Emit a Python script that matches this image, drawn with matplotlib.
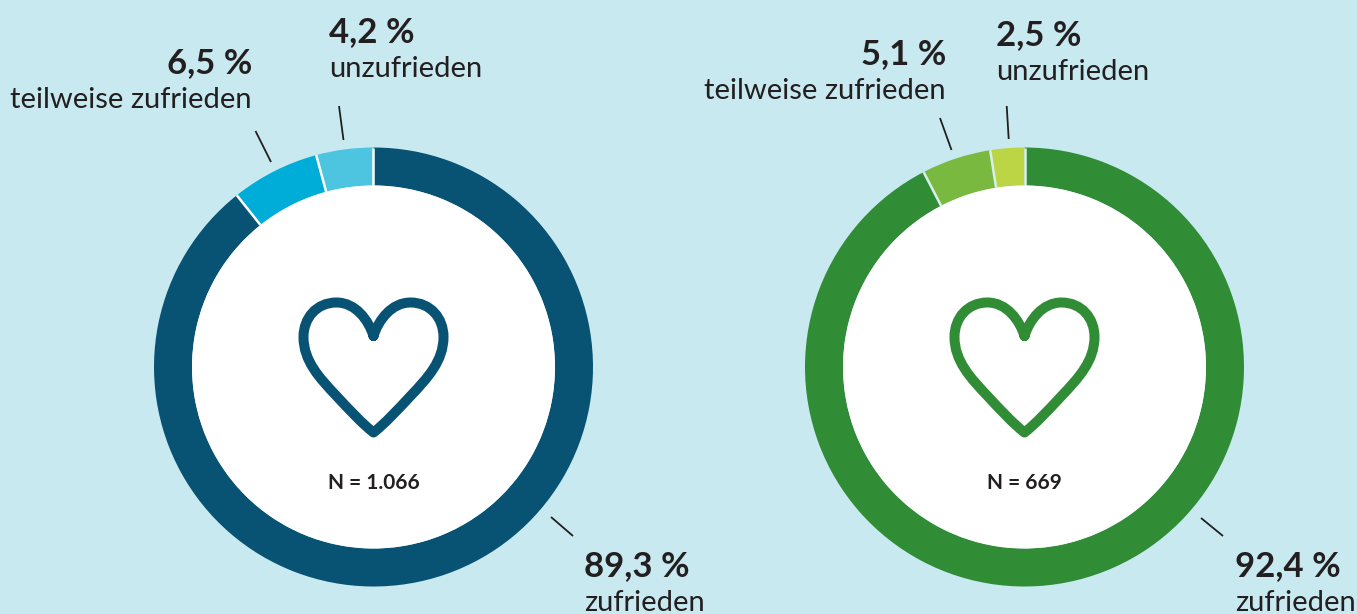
import matplotlib.pyplot as plt
import numpy as np
from matplotlib.patches import Circle, PathPatch
from matplotlib.path import Path

# Data
categories = ['zufrieden', 'teilweise zufrieden', 'unzufrieden']
values_left = [89.3, 6.5, 4.2]
values_right = [92.4, 5.1, 2.5]
pct_labels_left = ['89,3 %', '6,5 %', '4,2 %']
pct_labels_right = ['92,4 %', '5,1 %', '2,5 %']
n_left = 'N = 1.066'
n_right = 'N = 669'

colors_left = ['#085274', '#00add8', '#4dc4e0']
colors_right = ['#318c36', '#7ab93f', '#bcd544']
bg = '#c8e9f0'
ink = '#231f20'

W, H = 1357, 614
plt.rcParams['font.family'] = ['Lato', 'DejaVu Sans']

fig = plt.figure(figsize=(W / 100, H / 100), dpi=100, facecolor=bg)
ax = fig.add_axes([0, 0, 1, 1])


def py(y):
    # picture y (from the top) to axes y
    return H - y


def heart(cx, cy, color):
    # half outline from the notch to the tip, mirrored for the other side
    left = [(0, -31), (-5, -47), (-18, -64.5), (-37, -64.5),
            (-57, -64.5), (-70, -49), (-70, -30),
            (-70, -6), (-54, 11), (-37, 29),
            (-23, 44), (-12, 56), (0, 65.5)]
    right = [(-x, y) for x, y in reversed(left)]
    pts = left + right[1:]
    codes = [Path.MOVETO] + [Path.CURVE4] * (len(pts) - 1)
    verts = [(cx + x, py(cy + y)) for x, y in pts]
    ax.add_patch(PathPatch(Path(verts, codes), facecolor='none', edgecolor=color,
                           linewidth=7.2, joinstyle='round', capstyle='round', zorder=4))


def donut(cx, values, colors, edge, n_label):
    cy = 367
    r_out, r_in = 219.5, 181.5
    ax.pie(values, colors=colors, center=(cx, py(cy)), radius=r_out, startangle=90,
           counterclock=False, frame=True,
           wedgeprops=dict(width=r_out - r_in, edgecolor='none', linewidth=0))
    ax.add_patch(Circle((cx, py(cy)), r_in, facecolor='white', edgecolor='none', zorder=3))
    # thin separators only between the slices
    for a in np.radians(90 - 3.6 * np.cumsum(values)):
        ax.plot([cx + r_in * np.cos(a), cx + r_out * np.cos(a)],
                [py(cy) + r_in * np.sin(a), py(cy) + r_out * np.sin(a)],
                color=edge, linewidth=1.8, solid_capstyle='butt', zorder=2)
    heart(cx, cy, colors[0])
    ax.text(cx, py(489), n_label, ha='center', va='baseline', fontsize=15,
            fontweight='bold', color=ink, zorder=5)


def label(x, y, pct, name, ha):
    ax.text(x, py(y), pct, ha=ha, va='baseline', fontsize=25, fontweight='bold', color=ink)
    ax.text(x, py(y + 35), name, ha=ha, va='baseline', fontsize=21, color=ink)


def leader(x0, y0, x1, y1):
    ax.plot([x0, x1], [py(y0), py(y1)], color=ink, linewidth=1.3, solid_capstyle='butt')


donut(373.5, values_left, colors_left, '#ffffff', n_left)
donut(1024.5, values_right, colors_right, '#d8eff0', n_right)

label(584, 576, pct_labels_left[0], categories[0], 'left')
label(252, 73, pct_labels_left[1], categories[1], 'right')
label(329, 42, pct_labels_left[2], categories[2], 'left')
label(1235, 576, pct_labels_right[0], categories[0], 'left')
label(946, 64, pct_labels_right[1], categories[1], 'right')
label(996, 45, pct_labels_right[2], categories[2], 'left')

leader(551, 517, 573, 536)
leader(255.5, 131, 271, 162)
leader(339, 106, 343.5, 140)
leader(1201, 518, 1223, 536)
leader(940, 118, 951.5, 150)
leader(1006.7, 106, 1008.7, 139)

ax.set_xlim(0, W)
ax.set_ylim(0, H)
ax.set_aspect('equal')
ax.axis('off')

plt.savefig('out.png', dpi=100, facecolor=bg)
plt.close()
